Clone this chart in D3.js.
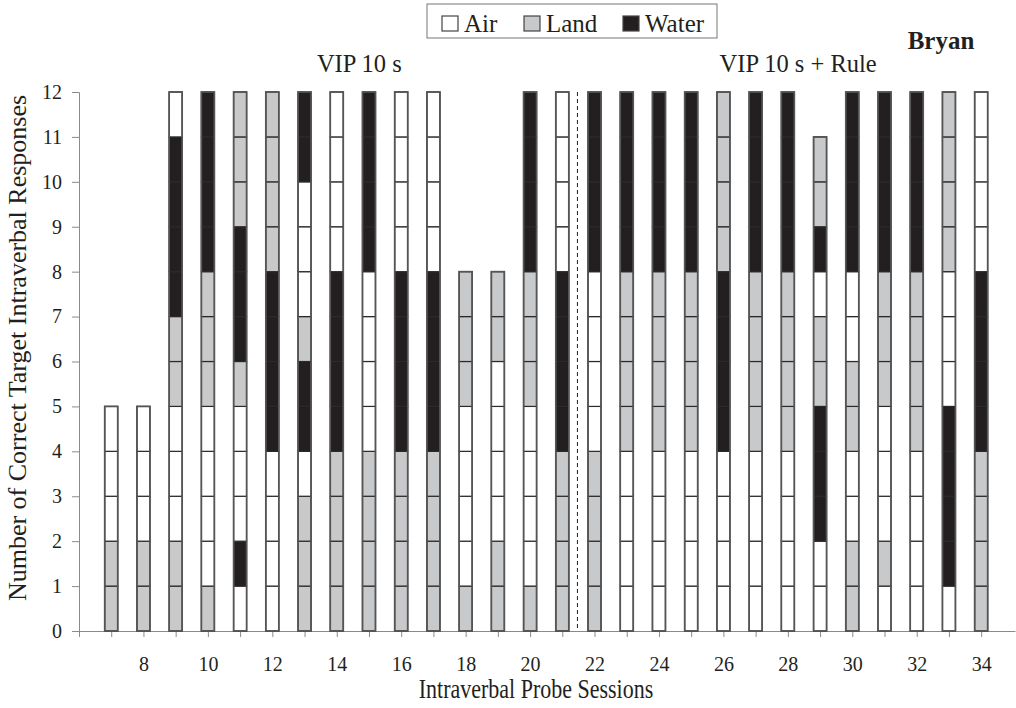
<!DOCTYPE html>
<html>
<head>
<meta charset="utf-8">
<script src="https://cdn.jsdelivr.net/npm/d3@7"></script>
<style>
	body { margin: 0; background: #fff; }
	text { font-family: "Liberation Serif", "Times New Roman", serif; fill: #231f20; }
</style>
</head>
<body>
<script>
// one letter per correct response, bottom to top: A = Air, L = Land, W = Water
const sessions = [7, 8, 9, 10, 11, 12, 13, 14, 15, 16, 17, 18, 19, 20, 21,
	22, 23, 24, 25, 26, 27, 28, 29, 30, 31, 32, 33, 34];
const responses = [
	'LLAAA', 'LLAAA', 'LLAAALLWWWWA', 'LAAAALLLWWWW', 'AWAAALWWWLLL',
	'AAAAWWWWLLLL', 'LLLAWWLAAAWW', 'LLLLWWWWAAAA', 'LLLLAAAAWWWW',
	'LLLLWWWWAAAA', 'LLLLWWWWAAAA', 'LAAAALLL', 'LLAAAALL', 'LAAAALLLWWWW',
	'LLLLWWWWAAAA',
	'LLLLAAAAWWWW', 'AAAALLLLWWWW', 'AAAALLLLWWWW', 'AAAALLLLWWWW',
	'AAAAWWWWLLLL', 'AAAALLLLWWWW', 'AAAALLLLWWWW', 'AAWWWLLAWLL',
	'LLAALLAAWWWW', 'ALAAALLLWWWW', 'AAAALLLLWWWW', 'AWWWWAAALLLL',
	'LLLLWWWWAAAA'
];
const categories = ['Air', 'Land', 'Water'];
const codes = ['A', 'L', 'W'];
const colors = ['#ffffff', '#c8c9cb', '#231f20'];
const yTicks = d3.range(0, 13);
const xTickLabels = [8, 10, 12, 14, 16, 18, 20, 22, 24, 26, 28, 30, 32, 34];
const phases = [{ label: 'VIP 10 s', at: 14.7 }, { label: 'VIP 10 s + Rule', at: 28.32 }];
const phaseChange = 21.47;

const width = 1016, height = 708;
const svg = d3.select('body').append('svg')
	.attr('width', width)
	.attr('height', height);

const x = d3.scaleLinear().domain([6, 35.05]).range([79, 1015]);
const y = d3.scaleLinear().domain([0, 12]).range([631, 92]);
const color = d3.scaleOrdinal().domain(codes).range(colors);

// axes
const yAxis = svg.append('g')
	.attr('transform', 'translate(79,0)')
	.call(d3.axisLeft(y).tickValues(yTicks).tickSize(7).tickPadding(10));
yAxis.select('.domain').attr('stroke', '#8a8a8a');
yAxis.selectAll('.tick line').attr('stroke', '#8a8a8a');
yAxis.selectAll('.tick text').style('font-size', '20px').attr('fill', '#231f20');

const xAxis = svg.append('g')
	.attr('transform', 'translate(0,631)')
	.call(d3.axisBottom(x).tickValues(d3.range(6, 35)).tickSize(6).tickSizeOuter(0)
		.tickFormat(d => xTickLabels.includes(d) ? d : ''));
xAxis.select('.domain').attr('stroke', '#8a8a8a');
xAxis.selectAll('.tick line').attr('stroke', '#8a8a8a');
xAxis.selectAll('.tick text').style('font-size', '20px').attr('fill', '#231f20')
	.attr('y', 40).attr('dy', 0);

// stacked unit cells
const barW = 13;
const cells = [];
sessions.forEach((s, i) => {
	responses[i].split('').forEach((c, k) => cells.push({ session: s, code: c, k: k }));
});

svg.append('g').selectAll('rect')
	.data(cells)
	.enter().append('rect')
	.attr('x', d => x(d.session) - barW / 2)
	.attr('y', d => y(d.k + 1))
	.attr('width', barW)
	.attr('height', d => y(d.k) - y(d.k + 1))
	.attr('fill', d => color(d.code))
	.attr('stroke', '#2a2a2a')
	.attr('stroke-width', 1.2);

svg.append('g').selectAll('rect')
	.data(sessions)
	.enter().append('rect')
	.attr('x', d => x(d) - barW / 2)
	.attr('y', (d, i) => y(responses[i].length))
	.attr('width', barW)
	.attr('height', (d, i) => y(0) - y(responses[i].length))
	.attr('fill', 'none')
	.attr('stroke', '#555')
	.attr('stroke-width', 1.7);

// phase change line
svg.append('line')
	.attr('x1', x(phaseChange)).attr('x2', x(phaseChange))
	.attr('y1', y(12)).attr('y2', y(0))
	.attr('stroke', '#231f20')
	.attr('stroke-width', 1)
	.attr('stroke-dasharray', '4,3');

svg.selectAll('.phase')
	.data(phases)
	.enter().append('text')
	.attr('class', 'phase')
	.attr('x', d => x(d.at))
	.attr('y', 72)
	.attr('text-anchor', 'middle')
	.style('font-size', '24.5px')
	.text(d => d.label);

svg.append('text')
	.attr('x', 941)
	.attr('y', 49)
	.attr('text-anchor', 'middle')
	.style('font-size', '25px')
	.style('font-weight', 'bold')
	.text('Bryan');

// axis titles
svg.append('text')
	.attr('transform', 'translate(536,698) scale(1,1.2)')
	.attr('text-anchor', 'middle')
	.style('font-size', '22px')
	.text('Intraverbal Probe Sessions');

svg.append('text')
	.attr('transform', 'translate(26,348) rotate(-90)')
	.attr('text-anchor', 'middle')
	.style('font-size', '26px')
	.text('Number of Correct Target Intraverbal Responses');

// legend
const legend = svg.append('g').attr('transform', 'translate(427,4)');
legend.append('rect')
	.attr('width', 290).attr('height', 34)
	.attr('fill', '#fff').attr('stroke', '#777').attr('stroke-width', 1);
const legendX = [15, 97, 196];
const entries = legend.selectAll('.legend-entry')
	.data(categories)
	.enter().append('g')
	.attr('class', 'legend-entry')
	.attr('transform', (d, i) => `translate(${legendX[i]},12)`);
entries.append('rect')
	.attr('width', 16).attr('height', 15)
	.attr('fill', (d, i) => colors[i])
	.attr('stroke', '#444').attr('stroke-width', 1.2);
entries.append('text')
	.attr('x', 22)
	.attr('y', 16)
	.style('font-size', '25px')
	.text(d => d);
</script>
</body>
</html>
